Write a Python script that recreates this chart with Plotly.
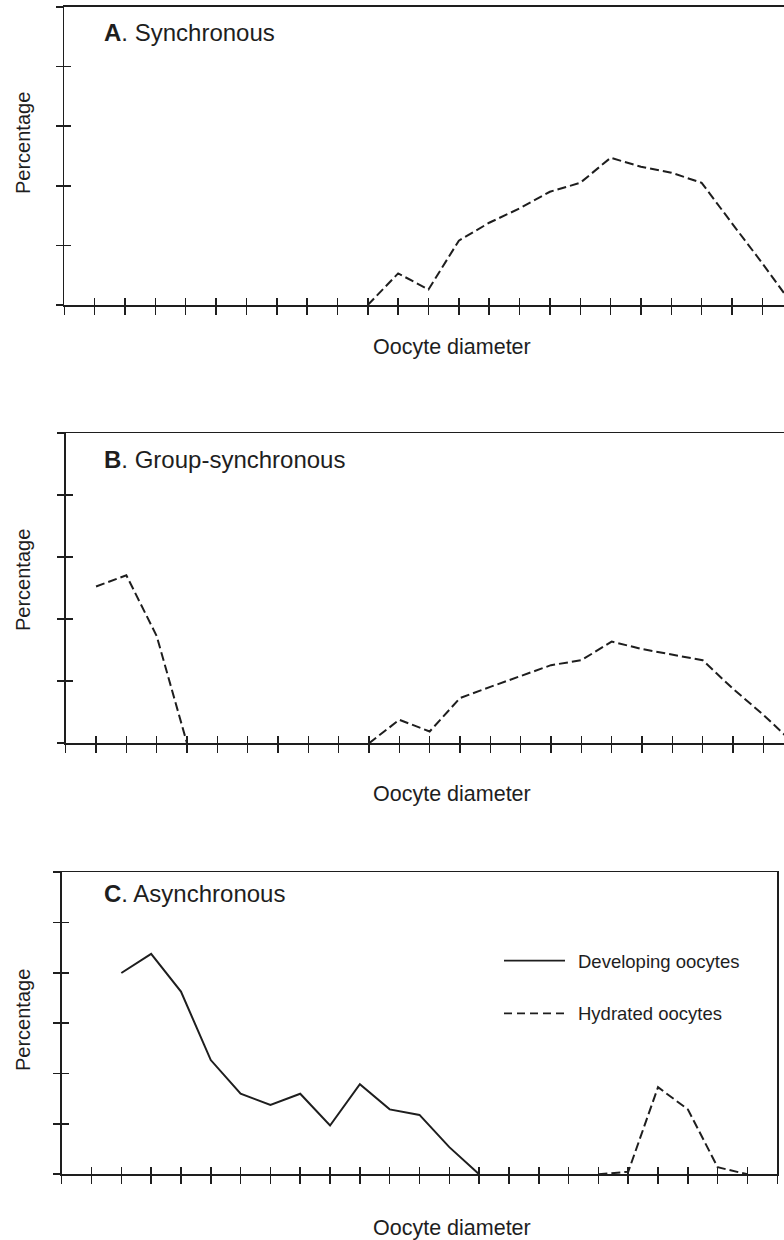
import plotly.graph_objects as go

W, H = 784, 1240
FONT = "Liberation Sans, Arial, Helvetica, sans-serif"
INK = "#1e1e1e"

# ---------------- data (x = oocyte-diameter class index) ----------------
a_x = list(range(10, 25))
a_hydrated = [0, 0.53, 0.26, 1.08, 1.38, 1.62, 1.90, 2.05, 2.47, 2.32, 2.22, 2.05, 1.37, 0.70, 0]

b_x1 = [1, 2, 3, 4]
b_hydrated1 = [2.53, 2.71, 1.73, 0]
b_x2 = list(range(10, 25))
b_hydrated2 = [0, 0.38, 0.19, 0.73, 0.91, 1.09, 1.26, 1.34, 1.64, 1.52, 1.43, 1.34, 0.88, 0.46, 0]

c_dev_x = list(range(2, 15))
c_developing = [4.0, 4.38, 3.63, 2.27, 1.60, 1.38, 1.60, 0.97, 1.79, 1.29, 1.18, 0.54, 0]
c_hyd_x = list(range(18, 24))
c_hydrated = [0, 0.05, 1.73, 1.29, 0.14, 0]

titles = ["<b>A</b>. Synchronous", "<b>B</b>. Group-synchronous", "<b>C</b>. Asynchronous"]
x_label = "Oocyte diameter"
y_label = "Percentage"
legend_labels = ["Developing oocytes", "Hydrated oocytes"]

# ---------------- layout geometry (pixels) ----------------
def px(x):
    return x / W

def py(y):
    return 1 - y / H

# left, right, top, bottom of each plot area, x max of range, y max
panels = [
    dict(l=64.3, r=784, t=7, b=305, xmax=(784 - 64.3) / 30.35, ymax=5, box=False),
    dict(l=65.7, r=784, t=433.3, b=743.3, xmax=(784 - 65.7) / 30.33, ymax=5, box=False),
    dict(l=61.7, r=777.3, t=872.3, b=1174.3, xmax=24, ymax=6, box=True),
]

DASH = "9px,4px"
fig = go.Figure()

def line(x, y, ax, dash, name, show=False):
    fig.add_trace(go.Scatter(
        x=x, y=y, mode="lines", name=name, showlegend=show,
        line=dict(color=INK, width=2, dash=dash),
        xaxis="x" + ax, yaxis="y" + ax, hoverinfo="skip"))

line(a_x, a_hydrated, "", DASH, "Hydrated oocytes")
line(b_x1, b_hydrated1, "2", DASH, "Hydrated oocytes")
line(b_x2, b_hydrated2, "2", DASH, "Hydrated oocytes")
line(c_dev_x, c_developing, "3", "solid", "Developing oocytes")
line(c_hyd_x, c_hydrated, "3", DASH, "Hydrated oocytes")

layout = dict(
    width=W, height=H, margin=dict(l=0, r=0, t=0, b=0),
    paper_bgcolor="white", plot_bgcolor="white", showlegend=False,
    font=dict(family=FONT, color=INK),
)

annotations = []
shapes = []
for i, p in enumerate(panels):
    n = "" if i == 0 else str(i + 1)
    m = str(i + 4)  # overlay axes for the inward half of the crossing ticks
    xd = [px(p["l"]), px(p["r"])]
    yd = [py(p["b"]), py(p["t"])]
    common = dict(showgrid=False, zeroline=False, showticklabels=False,
                  tickcolor=INK, dtick=1, tick0=0, fixedrange=True)
    layout["xaxis" + n] = dict(domain=xd, range=[0, p["xmax"]], anchor="y" + n,
                               showline=True, linecolor=INK, linewidth=1.6,
                               mirror=True, ticks="outside", ticklen=8, tickwidth=1.5, **common)
    layout["yaxis" + n] = dict(domain=yd, range=[0, p["ymax"]], anchor="x" + n,
                               showline=True, linecolor=INK, linewidth=1.8,
                               mirror=p["box"], ticks="outside", ticklen=7, tickwidth=1.7, **common)
    layout["xaxis" + m] = dict(range=[0, p["xmax"]], overlaying="x" + n, anchor="y" + n,
                               side="bottom", showline=False, ticks="inside",
                               ticklen=7, tickwidth=1.5, **common)
    layout["yaxis" + m] = dict(range=[0, p["ymax"]], overlaying="y" + n, anchor="x" + n,
                               side="left", showline=False, ticks="inside",
                               ticklen=7, tickwidth=1.7, **common)
    fig.add_trace(go.Scatter(x=[None], y=[None], xaxis="x" + m, yaxis="y" + m,
                             showlegend=False, hoverinfo="skip"))

# panel titles
for t, yy in zip(titles, [32.5, 459.5, 893]):
    annotations.append(dict(text=t, x=px(102), y=py(yy), xref="paper", yref="paper",
                            xanchor="left", yanchor="middle", showarrow=False,
                            font=dict(size=24, family=FONT, color=INK)))
# x labels
for yy in [347, 794, 1228]:
    annotations.append(dict(text=x_label, x=px(452), y=py(yy), xref="paper", yref="paper",
                            xanchor="center", yanchor="middle", showarrow=False,
                            font=dict(size=21.5, family=FONT, color=INK)))
# y labels
for yy in [143, 580, 1020]:
    annotations.append(dict(text=y_label, x=px(23), y=py(yy), xref="paper", yref="paper",
                            xanchor="center", yanchor="middle", textangle=-90, showarrow=False,
                            font=dict(size=20, family=FONT, color=INK)))

# legend (panel C)
for lab, yy, dash in zip(legend_labels, [960.7, 1013.3], ["solid", "8px,5px"]):
    shapes.append(dict(type="line", xref="paper", yref="paper",
                       x0=px(504), x1=px(565), y0=py(yy), y1=py(yy),
                       line=dict(color=INK, width=1.8, dash=dash)))
    annotations.append(dict(text=lab, x=px(576), y=py(yy + 0.5), xref="paper", yref="paper",
                            xanchor="left", yanchor="middle", showarrow=False,
                            font=dict(size=18.5, family=FONT, color=INK)))

layout["annotations"] = annotations
layout["shapes"] = shapes
fig.update_layout(**layout)
fig.write_html("out.html",
               config={"displayModeBar": False, "staticPlot": True},
               post_script="document.body.style.margin='0';document.body.style.overflow='hidden';")
